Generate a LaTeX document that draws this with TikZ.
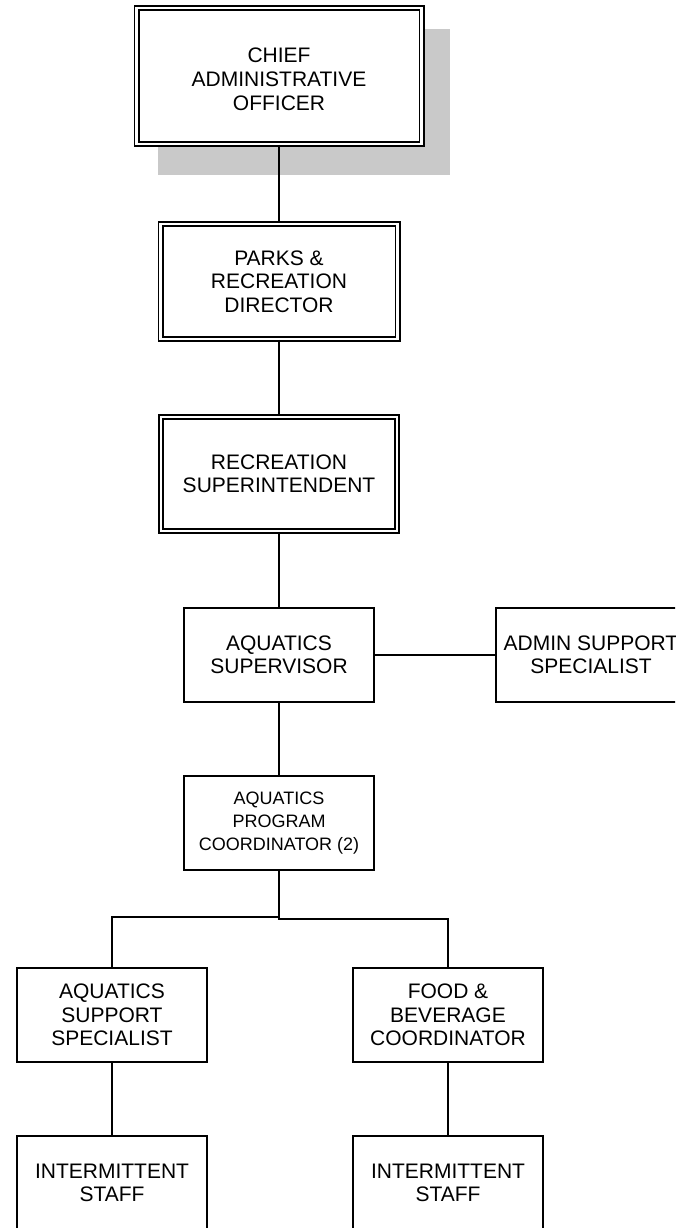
\documentclass[tikz,border=0pt]{standalone}
\usepackage{fontspec}
\setmainfont{Liberation Sans}
\begin{document}
\begin{tikzpicture}[x=1pt,y=-1pt,
  box/.style={draw=black,fill=white,line width=1.6pt,inner sep=0pt,align=center,
    minimum width=190.5pt,minimum height=94.5pt,font=\fontsize{21}{23.5}\selectfont},
  dbox/.style={box,double=white,double distance=2.8pt,line width=1.6pt},
  conn/.style={draw=black,line width=1.5pt},
  label/.style={inner sep=0pt,align=center,font=\fontsize{21}{24}\selectfont},
  shadowfill/.style={fill=black!21}]
\useasboundingbox (0,0) rectangle (675,1228);
\clip (0,0) rectangle (675,1228);
% shadow of the top box
\path[shadowfill] (158,29) rectangle (450,175);
% nodes
\node[dbox,minimum width=285pt,minimum height=136pt] (cao) at (279,76) {};
\node[label,yshift=-3.5pt] (caot) at (cao.center) {CHIEF\\ADMINISTRATIVE\\OFFICER};
\node[dbox,minimum width=237pt,minimum height=115pt] (prd) at (279,281.5) {PARKS \&\\RECREATION\\DIRECTOR};
\node[dbox,minimum width=236pt,minimum height=114pt] (rs) at (279,474) {RECREATION\\SUPERINTENDENT};
\node[box] (as) at (279,655) {AQUATICS\\SUPERVISOR};
\node[box] (ass) at (591,655) {ADMIN SUPPORT\\SPECIALIST};
\node[box,font=\fontsize{18}{23.3}\selectfont] (apc) at (279,823) {AQUATICS\\PROGRAM\\COORDINATOR (2)};
\node[box] (aqs) at (112,1015) {AQUATICS\\SUPPORT\\SPECIALIST};
\node[box] (fbc) at (448,1015) {FOOD \&\\BEVERAGE\\COORDINATOR};
\node[box] (is1) at (112,1183) {INTERMITTENT\\STAFF};
\node[box] (is2) at (448,1183) {INTERMITTENT\\STAFF};
% connectors
\draw[conn] (cao) -- (prd);
\draw[conn] (prd) -- (rs);
\draw[conn] (rs) -- (as);
\draw[conn] (as) -- (ass);
\draw[conn] (as) -- (apc);
\draw[conn] (apc.south) -- ++(0,46) -| (aqs.north);
\draw[conn] (apc.south) -- ++(0,48) -| (fbc.north);
\draw[conn] (aqs) -- (is1);
\draw[conn] (fbc) -- (is2);
\end{tikzpicture}
\end{document}
